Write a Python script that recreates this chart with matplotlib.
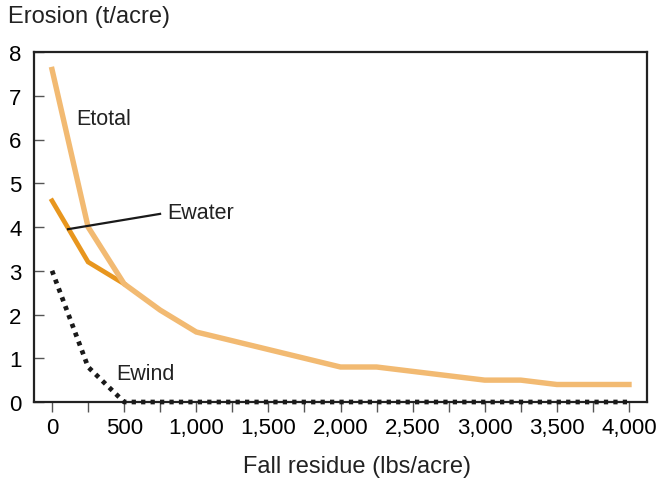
import numpy as np
import matplotlib.pyplot as plt
from matplotlib.ticker import MultipleLocator, FuncFormatter

plt.rcParams['font.family'] = ['Liberation Sans', 'DejaVu Sans']

# fall residue (lbs/acre)
residue_total = [0, 250, 500, 750, 1000, 1500, 2000, 2250, 2500, 3000, 3250, 3500, 4000]
e_total = [7.6, 4.0, 2.7, 2.1, 1.6, 1.2, 0.8, 0.8, 0.7, 0.5, 0.5, 0.4, 0.4]

residue_water = [0, 250, 500]
e_water = [4.6, 3.2, 2.7]

residue_wind = [0, 250, 500, 4000]
e_wind = [3.0, 0.8, 0.0, 0.0]

x_labels = [0, 500, 1000, 1500, 2000, 2500, 3000, 3500, 4000]

fig = plt.figure(figsize=(6.59, 4.85), dpi=100)
ax = fig.add_axes([34 / 659, 1 - 403 / 485, (647 - 34) / 659, (403 - 53) / 485])

ax.plot(residue_wind, e_wind, color="#1a1a1a", lw=3.4, linestyle=(0, (0.9, 1.1)),
        dash_capstyle="butt", zorder=6, clip_on=False)
ax.plot(residue_water, e_water, color="#E8961E", lw=3.4, solid_joinstyle="miter", zorder=3)
ax.plot(residue_total, e_total, color="#F2BA72", lw=3.9, solid_joinstyle="miter", zorder=4)

# label for Ewater with leader line
ax.plot([111, 749], [3.95, 4.3], color="#1a1a1a", lw=1.6, zorder=5)
ax.text(798, 4.32, "Ewater", fontsize=15.5, va="center", ha="left", color="#222222")
ax.text(166, 6.47, "Etotal", fontsize=15.5, va="center", ha="left", color="#222222")
ax.text(444, 0.64, "Ewind", fontsize=15.5, va="center", ha="left", color="#222222")

ax.set_xlim(-125, 4125)
ax.set_ylim(0, 8)
ax.xaxis.set_major_locator(MultipleLocator(500))
ax.xaxis.set_minor_locator(MultipleLocator(250))
ax.xaxis.set_major_formatter(FuncFormatter(lambda v, p: f"{int(v):,}"))
ax.set_xticks(x_labels)
ax.yaxis.set_major_locator(MultipleLocator(1))

ax.tick_params(axis="x", which="both", direction="out", length=7, width=1,
               color="#555555", labelsize=16, pad=4)
ax.tick_params(axis="y", which="major", direction="in", length=7, width=1,
               color="#555555", labelsize=16, pad=9)
for s in ax.spines.values():
    s.set_linewidth(1.6)
    s.set_color("#222222")

fig.text(8 / 659, 1 - 17 / 485, "Erosion (t/acre)", fontsize=17, va="center", ha="left",
         color="#222222")
fig.text(357 / 659, 1 - 467 / 485, "Fall residue (lbs/acre)", fontsize=17, va="center",
         ha="center", color="#222222")

fig.savefig("out.png", dpi=100)
